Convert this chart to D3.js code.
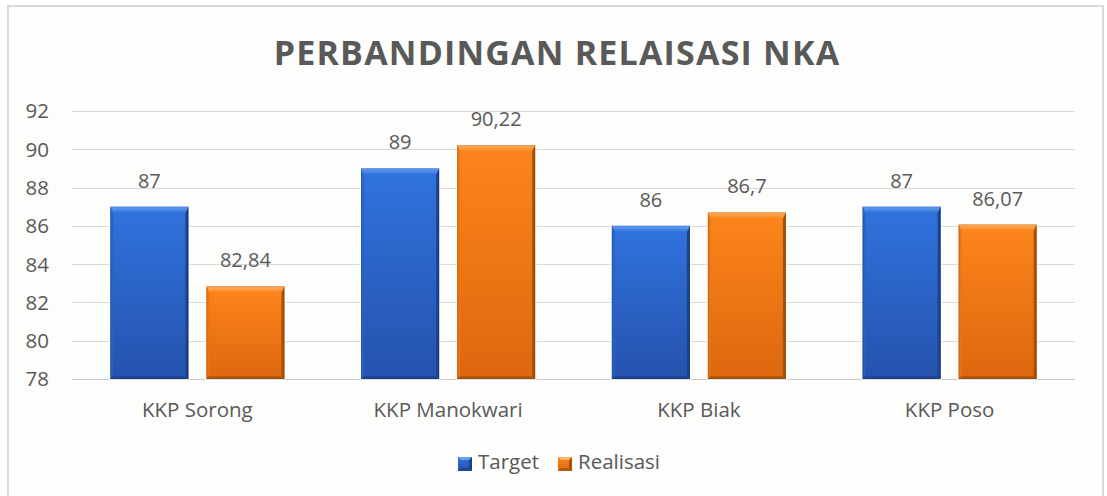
<!DOCTYPE html>
<html>
<head>
<meta charset="utf-8">
<script src="https://cdn.jsdelivr.net/npm/d3@7"></script>
<style>
  html, body { margin: 0; padding: 0; background: #ffffff; }
  svg { display: block; }
  text { font-family: "Open Sans", "Noto Sans", sans-serif; fill: #595959; }
</style>
</head>
<body>
<svg id="chart" width="1107" height="496"></svg>
<script>
// Chart data
const categories = ["KKP Sorong", "KKP Manokwari", "KKP Biak", "KKP Poso"];
const seriesNames = ["Target", "Realisasi"];
const targetValues = [87, 89, 86, 87];
const realisasiValues = [82.84, 90.22, 86.7, 86.07];
const yTicks = [78, 80, 82, 84, 86, 88, 90, 92];
const chartTitle = "PERBANDINGAN RELAISASI NKA";

const seriesValues = { "Target": targetValues, "Realisasi": realisasiValues };

// Bevelled fill palettes per series
const palette = {
  "Target":    { bodyTop: "#3073de", bodyBottom: "#2552ad", bevelHi: "#6aa0f0", left: "#2a62c4", right: "#1d438c", bottom: "#1f4694" },
  "Realisasi": { bodyTop: "#fd851c", bodyBottom: "#dd670e", bevelHi: "#fdb466", left: "#ea7414", right: "#a8520b", bottom: "#b3580b" }
};

const svg = d3.select("#chart");
const W = 1107, H = 496;
const defs = svg.append("defs");

Object.entries(palette).forEach(([name, pal], k) => {
  const g1 = defs.append("linearGradient").attr("id", "body" + k).attr("x1", 0).attr("y1", 0).attr("x2", 0).attr("y2", 1);
  g1.append("stop").attr("offset", 0).attr("stop-color", pal.bodyTop);
  g1.append("stop").attr("offset", 1).attr("stop-color", pal.bodyBottom);
  const g2 = defs.append("linearGradient").attr("id", "bevel" + k).attr("x1", 0).attr("y1", 0).attr("x2", 0).attr("y2", 1);
  g2.append("stop").attr("offset", 0).attr("stop-color", pal.bevelHi);
  g2.append("stop").attr("offset", 1).attr("stop-color", pal.bodyTop);
  pal.k = k;
});

// Background and chart-area frame
svg.append("rect").attr("x", 0).attr("y", 0).attr("width", W).attr("height", H).attr("fill", "#ffffff");
svg.append("rect").attr("x", 8).attr("y", 6).attr("width", 1095).attr("height", 500)
  .attr("fill", "#fdfdfb").attr("stroke", "#d9d9d9").attr("stroke-width", 2);

// Title
svg.append("text")
  .attr("x", 557).attr("y", 65)
  .attr("text-anchor", "middle")
  .attr("font-size", 34).attr("font-weight", 700)
  .attr("letter-spacing", 1.2)
  .text(chartTitle);

// Scales
const plotLeft = 72, plotRight = 1075;
const y = d3.scaleLinear().domain([78, 92]).range([379, 111]);
const x0 = d3.scaleBand().domain(categories).range([plotLeft, plotRight]).paddingInner(0).paddingOuter(0);
const groupSpan = x0.bandwidth() * 0.694;
const groupOffset = (x0.bandwidth() - groupSpan) / 2;
const x1 = d3.scaleBand().domain(seriesNames).range([groupOffset, groupOffset + groupSpan]).paddingInner(0.1875).paddingOuter(0);

// Gridlines and tick labels
const grid = svg.append("g");
yTicks.forEach(t => {
  grid.append("line")
    .attr("x1", plotLeft).attr("x2", plotRight)
    .attr("y1", Math.round(y(t)) + 0.5).attr("y2", Math.round(y(t)) + 0.5)
    .attr("stroke", t === 78 ? "#c8c8c8" : "#d9d9d9").attr("stroke-width", 1);
  grid.append("text")
    .attr("x", 49).attr("y", y(t))
    .attr("dy", "0.36em")
    .attr("text-anchor", "end")
    .attr("font-size", 20.5)
    .text(t);
});

const poly = (g, pts) => g.append("polygon").attr("points", pts.map(p => p.join(",")).join(" "));

// Bevelled bar
function bevelBar(g, bx, by, bw, bh, pal) {
  const bt = Math.min(6, bh / 2), bs = 3;
  g.append("rect").attr("x", bx - 1).attr("y", by - 1).attr("width", bw + 2).attr("height", bh + 2)
    .attr("fill", "none").attr("stroke", "rgba(255,255,255,0.8)").attr("stroke-width", 1);
  g.append("rect").attr("x", bx).attr("y", by).attr("width", bw).attr("height", bh).attr("fill", `url(#body${pal.k})`);
  poly(g, [[bx, by], [bx + bs, by + bt], [bx + bs, by + bh - bs], [bx, by + bh]]).attr("fill", pal.left).attr("opacity", 0.8);
  poly(g, [[bx + bw, by], [bx + bw, by + bh], [bx + bw - bs, by + bh - bs], [bx + bw - bs, by + bt]]).attr("fill", pal.right);
  poly(g, [[bx, by + bh], [bx + bs, by + bh - bs], [bx + bw - bs, by + bh - bs], [bx + bw, by + bh]]).attr("fill", pal.bottom);
  poly(g, [[bx, by], [bx + bw, by], [bx + bw - bs, by + bt], [bx + bs, by + bt]]).attr("fill", `url(#bevel${pal.k})`);
  g.append("rect").attr("x", bx + 0.5).attr("y", by + 0.5).attr("width", bw - 1).attr("height", bh - 1)
    .attr("fill", "none").attr("stroke", "rgba(0,0,0,0.12)").attr("stroke-width", 1);
}

const fmt = v => String(v).replace(".", ",");

// Bars and value labels
const barsG = svg.append("g");
categories.forEach((c, i) => {
  seriesNames.forEach(s => {
    const v = seriesValues[s][i];
    const bx = x0(c) + x1(s);
    const bw = x1.bandwidth();
    const top = y(v);
    bevelBar(barsG, bx, top, bw, y(78) - top, palette[s]);
    barsG.append("text")
      .attr("x", bx + bw / 2).attr("y", top - 19)
      .attr("text-anchor", "middle")
      .attr("font-size", 20)
      .text(fmt(v));
  });
  svg.append("text")
    .attr("x", x0(c) + x0.bandwidth() / 2).attr("y", 417)
    .attr("text-anchor", "middle")
    .attr("font-size", 20.5)
    .text(c);
});

// Legend
const legend = svg.append("g");
const legendItems = [{ name: "Target", x: 458 }, { name: "Realisasi", x: 558 }];
legendItems.forEach(it => {
  const pal = palette[it.name];
  const g = legend.append("g");
  const bx = it.x, by = 457, sz = 14, b = 3;
  g.append("rect").attr("x", bx).attr("y", by).attr("width", sz).attr("height", sz).attr("fill", `url(#body${pal.k})`);
  poly(g, [[bx, by], [bx + sz, by], [bx + sz - b, by + b], [bx + b, by + b]]).attr("fill", pal.bevelHi);
  poly(g, [[bx + sz, by], [bx + sz, by + sz], [bx + sz - b, by + sz - b], [bx + sz - b, by + b]]).attr("fill", pal.right);
  poly(g, [[bx, by + sz], [bx + b, by + sz - b], [bx + sz - b, by + sz - b], [bx + sz, by + sz]]).attr("fill", pal.bottom);
  legend.append("text")
    .attr("x", bx + 20).attr("y", 469)
    .attr("font-size", 20.5)
    .text(it.name);
});
</script>
</body>
</html>
